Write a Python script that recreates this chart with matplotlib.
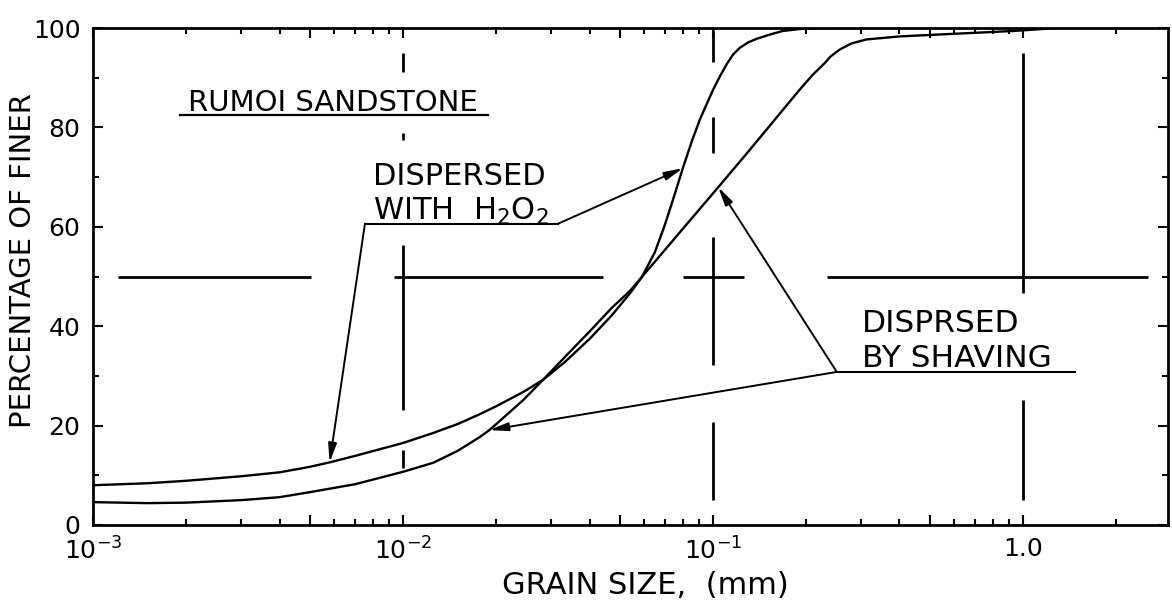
import matplotlib
matplotlib.use("Agg")
import matplotlib.pyplot as plt
from matplotlib.ticker import FixedLocator, FixedFormatter, NullFormatter

# ---- data -------------------------------------------------------------
grain_size_h2o2 = [0.001, 0.0015, 0.002, 0.003, 0.004, 0.005, 0.0058, 0.007,
                   0.01, 0.0125, 0.015, 0.0177, 0.02, 0.0245, 0.0283, 0.0333,
                   0.0401, 0.0472, 0.054, 0.059, 0.065, 0.07, 0.0743, 0.08,
                   0.0855, 0.0908, 0.1, 0.1054, 0.111, 0.116, 0.122, 0.13,
                   0.138, 0.153, 0.168, 0.191, 0.24, 0.3]
percent_h2o2 = [8.0, 8.4, 8.9, 9.8, 10.6, 11.7, 12.6, 13.9,
                16.5, 18.5, 20.3, 22.3, 23.9, 26.8, 29.2, 32.8,
                37.5, 42.2, 46.6, 49.9, 54.9, 60.4, 65.4, 71.8,
                77.2, 81.6, 87.5, 90.3, 92.8, 94.6, 96.0, 97.1,
                97.8, 98.7, 99.4, 99.8, 100.0, 100.0]

grain_size_shaving = [0.001, 0.0015, 0.002, 0.003, 0.004, 0.005, 0.007,
                      0.01, 0.0125, 0.015, 0.0177, 0.019, 0.02, 0.0245,
                      0.0283, 0.0333, 0.0401, 0.0472, 0.054, 0.059, 0.08,
                      0.1, 0.13, 0.164, 0.19, 0.21, 0.23, 0.24, 0.257,
                      0.28, 0.313, 0.4, 0.5, 0.93, 1.3]
percent_shaving = [4.6, 4.4, 4.5, 5.0, 5.6, 6.6, 8.2,
                   10.7, 12.5, 14.9, 17.7, 19.1, 20.3, 25.2,
                   29.2, 33.8, 39.0, 43.7, 47.1, 49.9, 59.6,
                   66.7, 75.1, 82.7, 87.5, 90.6, 93.0, 94.3, 95.7,
                   96.9, 97.7, 98.3, 98.6, 99.4, 100.0]

x_major = [0.001, 0.005, 0.01, 0.05, 0.1, 0.5, 1.0]
x_major_labels = ["$10^{-3}$", "", "$10^{-2}$", "", "$10^{-1}$", "", "1.0"]
x_minor = [m * d for d in (0.001, 0.01, 0.1, 1.0) for m in (2, 3, 4, 6, 7, 8, 9)]
y_major = [0, 20, 40, 60, 80, 100]
y_minor = [10, 30, 50, 70, 90]

# centre-line guides: (x, y_from, y_to) and (y, x_from, x_to)
vertical_guides = [
    (0.01, 95.0, 91.1), (0.01, 78.9, 77.5), (0.01, 56.3, 23.1), (0.01, 15.1, 11.5),
    (0.1, 99.6, 93.2), (0.1, 82.1, 74.8), (0.1, 57.9, 32.2), (0.1, 20.7, 5.0),
    (1.0, 95.0, 46.7), (1.0, 25.2, 5.0),
]
horizontal_guides = [
    (50, 0.0012, 0.00505), (50, 0.00935, 0.0442),
    (50, 0.080, 0.126), (50, 0.233, 2.53),
]

# ---- style ------------------------------------------------------------
plt.rcParams["font.family"] = ["DejaVu Sans"]
plt.rcParams["mathtext.fontset"] = "dejavusans"
plt.rcParams["mathtext.default"] = "regular"

fs_tick = 18

# ---- figure -----------------------------------------------------------
fig = plt.figure(figsize=(11.72, 6.0), dpi=100)
ax = fig.add_axes([93 / 1172, 1 - 525 / 600, (1168 - 93) / 1172, (525 - 28) / 600])
ax.set_xscale("log")
ax.set_xlim(0.001, 2.94)
ax.set_ylim(0, 100)

for sp in ax.spines.values():
    sp.set_linewidth(2.0)

ax.xaxis.set_major_locator(FixedLocator(x_major))
ax.xaxis.set_major_formatter(FixedFormatter(x_major_labels))
ax.xaxis.set_minor_locator(FixedLocator(x_minor))
ax.xaxis.set_minor_formatter(NullFormatter())
ax.yaxis.set_major_locator(FixedLocator(y_major))
ax.yaxis.set_minor_locator(FixedLocator(y_minor))

ax.tick_params(which="both", direction="in", top=True, right=True, width=1.5)
ax.tick_params(which="major", length=7)
ax.tick_params(which="minor", length=4)
ax.tick_params(axis="x", which="major", labelsize=fs_tick, pad=9)
ax.tick_params(axis="y", which="major", labelsize=fs_tick, pad=9)

# guides
for x, y0, y1 in vertical_guides:
    ax.plot([x, x], [y0, y1], color="black", lw=2.0, solid_capstyle="butt")
for y, x0, x1 in horizontal_guides:
    ax.plot([x0, x1], [y, y], color="black", lw=2.0, solid_capstyle="butt")

# grading curves
ax.plot(grain_size_h2o2, percent_h2o2, color="black", lw=1.7)
ax.plot(grain_size_shaving, percent_shaving, color="black", lw=1.7)

# title block
ax.text(0.00202, 83.4, "RUMOI SANDSTONE", fontsize=21, ha="left", va="baseline")
ax.plot([0.00191, 0.0188], [82.5, 82.5], color="black", lw=1.6)

# labels with leaders
arrow_kw = dict(arrowstyle="-|>,head_length=0.8,head_width=0.18", color="black",
                lw=1.4, shrinkA=0, shrinkB=0, mutation_scale=14)

ax.text(0.0080, 68.4, "DISPERSED", fontsize=22, ha="left", va="baseline")
ax.text(0.0080, 61.4, "WITH  H$_2$O$_2$", fontsize=22, ha="left", va="baseline")
ax.plot([0.00754, 0.0316], [60.6, 60.6], color="black", lw=1.5)
ax.annotate("", xy=(0.080, 71.8), xytext=(0.0316, 60.6), arrowprops=arrow_kw)
ax.annotate("", xy=(0.0058, 12.6), xytext=(0.00754, 60.6), arrowprops=arrow_kw)

ax.text(0.303, 38.8, "DISPRSED", fontsize=22.5, ha="left", va="baseline")
ax.text(0.303, 31.8, "BY SHAVING", fontsize=22.5, ha="left", va="baseline")
ax.plot([0.251, 1.47], [30.8, 30.8], color="black", lw=1.5)
ax.annotate("", xy=(0.104, 68.0), xytext=(0.251, 30.8), arrowprops=arrow_kw)
ax.annotate("", xy=(0.019, 19.1), xytext=(0.251, 30.8), arrowprops=arrow_kw)

ax.set_xlabel("GRAIN SIZE,  (mm)", fontsize=22)
ax.xaxis.set_label_coords(0.5135, -0.092)
ax.set_ylabel("PERCENTAGE OF FINER", fontsize=21)
ax.yaxis.set_label_coords(-0.052, 0.532)

fig.savefig("out.png", dpi=100)
